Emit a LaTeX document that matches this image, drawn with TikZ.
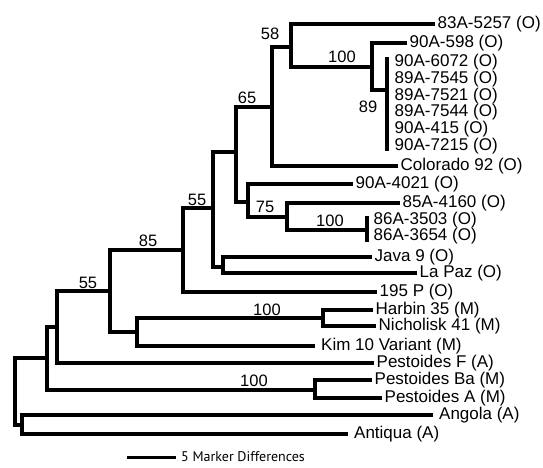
\documentclass[tikz,border=0pt]{standalone}
\usepackage{fontspec}
\setmainfont{Liberation Sans}
\newfontfamily\scalebarfont{PT Sans}
\begin{document}
\begin{tikzpicture}[x=1pt,y=-1pt,
  br/.style={line width=3.8pt, line join=miter},
  brl/.style={line width=3.2pt, line join=miter},
  leaf/.style={anchor=west, inner sep=2.5pt, font=\fontsize{17}{19}\selectfont},
  leafw/.style={leaf, inner xsep=6pt},
  boot/.style={inner sep=0pt, font=\fontsize{16.5}{18}\selectfont},
]
\useasboundingbox (0,0) rectangle (543,467);

% internal nodes (x, stem y)
\coordinate (R) at (15,391);
\coordinate (A) at (47,358);
\coordinate (AA) at (22,425);
\coordinate (B) at (57,327);
\coordinate (P) at (315,390);
\coordinate (C) at (110,291);
\coordinate (D) at (183,250);
\coordinate (K) at (137,332);
\coordinate (H) at (323,318);
\coordinate (E) at (213,208);
\coordinate (JL) at (223,267);
\coordinate (F) at (236,152);
\coordinate (G) at (272,107);
\coordinate (I) at (291,47);
\coordinate (J) at (372,67);
\coordinate (L) at (387,90);
\coordinate (Lt) at (387,57);
\coordinate (Lb) at (387,151);
\coordinate (M) at (248,202);
\coordinate (N) at (287,217);
\coordinate (O) at (367,230);
\coordinate (Ot) at (367,216);
\coordinate (Ob) at (367,242);

% leaves
\node[leaf] (l1) at (435,24) {83A-5257 (O)};
\node[leaf] (l2) at (407,43) {90A-598 (O)};
\node[leaf] (l3) at (392,62) {90A-6072 (O)};
\node[leaf] (l4) at (392,78.8) {89A-7545 (O)};
\node[leaf] (l5) at (392,95.6) {89A-7521 (O)};
\node[leaf] (l6) at (392,112.4) {89A-7544 (O)};
\node[leaf] (l7) at (392,129.2) {90A-415 (O)};
\node[leaf] (l8) at (392,146) {90A-7215 (O)};
\node[leaf] (l9) at (398,166) {Colorado 92 (O)};
\node[leaf] (l10) at (353,184) {90A-4021 (O)};
\node[leaf] (l11) at (400,203) {85A-4160 (O)};
\node[leaf] (l12) at (371,220) {86A-3503 (O)};
\node[leaf] (l13) at (371,236) {86A-3654 (O)};
\node[leaf] (l14) at (372,257) {Java 9 (O)};
\node[leaf] (l15) at (417,273) {La Paz (O)};
\node[leaf] (l16) at (377,292) {195 P (O)};
\node[leaf] (l17) at (373,310) {Harbin 35 (M)};
\node[leaf] (l18) at (376,326) {Nicholisk 41 (M)};
\node[leafw] (l19) at (315,346) {Kim 10 Variant (M)};
\node[leaf] (l20) at (374,363) {Pestoides F (A)};
\node[leaf] (l21) at (372,380) {Pestoides Ba (M)};
\node[leaf] (l22) at (382,398) {Pestoides A (M)};
\node[leafw] (l23) at (433,415) {Angola (A)};
\node[leafw] (l24) at (348,434) {Antiqua (A)};

% branches
\draw[brl] (R) |- (A);
\draw[brl] (R) |- (AA);
\draw[brl] (AA) |- (l23.west);
\draw[brl] (AA) |- (l24.west);
\draw[brl] (A) |- (B);
\draw[brl] (A) |- (P);
\draw[brl] (P) |- (l21.west);
\draw[brl] (P) |- (l22.west);
\draw[brl] (B) |- (C);
\draw[brl] (B) |- (l20.west);
\draw[brl] (C) |- (D);
\draw[brl] (C) |- (K);
\draw[brl] (K) |- (H);
\draw[brl] (K) |- (l19.west);
\draw[brl] (H) |- (l17.west);
\draw[brl] (H) |- (l18.west);
\draw[br] (D) |- (E);
\draw[br] (D) |- (l16.west);
\draw[br] (E) |- (F);
\draw[br] (E) |- (JL);
\draw[br] (JL) |- (l14.west);
\draw[br] (JL) |- (l15.west);
\draw[br] (F) |- (G);
\draw[br] (F) |- (M);
\draw[br] (G) |- (I);
\draw[br] (G) |- (l9.west);
\draw[br] (I) |- (l1.west);
\draw[br] (I) |- (J);
\draw[br] (J) |- (l2.west);
\draw[br] (J) |- (L);
\draw[br] (Lt) -- (Lb);
\draw[br] (M) |- (l10.west);
\draw[br] (M) |- (N);
\draw[br] (N) |- (l11.west);
\draw[br] (N) |- (O);
\draw[br] (Ot) -- (Ob);

% bootstrap values
\node[boot] (b58) at (270,33.5) {58};
\node[boot] (b65) at (247,97.5) {65};
\node[boot] (b100a) at (342,57) {100};
\node[boot] (b89) at (368,107) {89};
\node[boot] (b55a) at (197,199.5) {55};
\node[boot] (b75) at (265,206.5) {75};
\node[boot] (b100b) at (330,220.5) {100};
\node[boot] (b85) at (148,240.5) {85};
\node[boot] (b55b) at (88,282.5) {55};
\node[boot] (b100c) at (267,309.5) {100};
\node[boot] (b100d) at (254,380.5) {100};

% scale bar
\coordinate (s1) at (127,457);
\node[anchor=west, inner sep=0pt, font=\scalebarfont\fontsize{14}{16}\selectfont] (sc) at (181,457) {5 Marker Differences};
\draw[line width=3pt] (s1) -- ([xshift=-5pt]sc.west);
\end{tikzpicture}
\end{document}
